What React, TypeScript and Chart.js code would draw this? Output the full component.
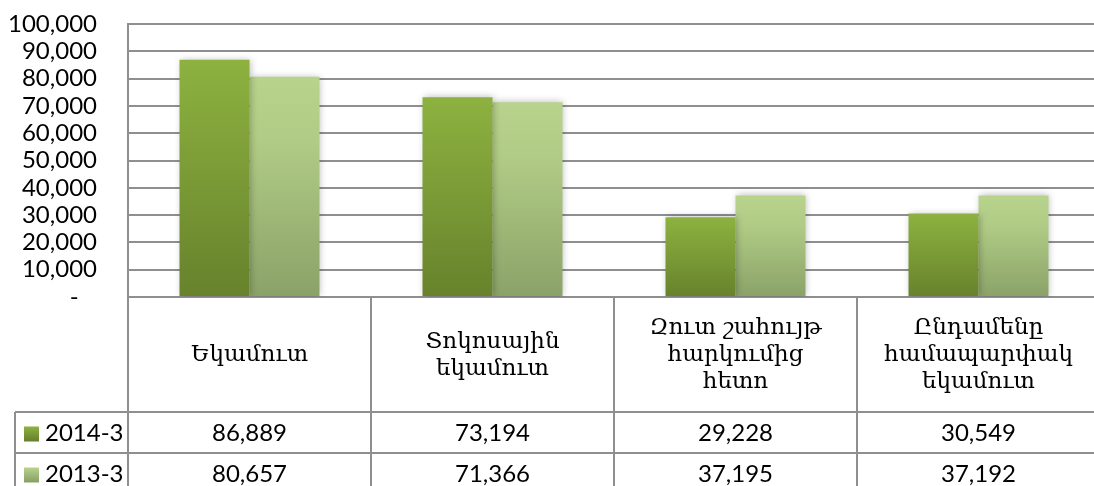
import React, { useEffect, useRef } from "react";
import { Chart, registerables } from "chart.js";

Chart.register(...registerables);

const categories: string[][] = [
  ["Եկամուտ"],
  ["Տոկոսային", "եկամուտ"],
  ["Զուտ շահույթ", "հարկումից", "հետո"],
  ["Ընդամենը", "համապարփակ", "եկամուտ"],
];
const seriesNames = ["2014-3", "2013-3"];
const values2014 = [86889, 73194, 29228, 30549];
const values2013 = [80657, 71366, 37195, 37192];
const yMin = 0;
const yMax = 100000;
const yStep = 10000;

const NUM_FONT = "24px Lato, 'Open Sans', sans-serif";
const CAT_FONT = "23px 'DejaVu Serif', serif";
const LINE = "#8f8f8f";

const fmt = (v: number) => v.toLocaleString("en-US");

const palette = [
  { top: "#8db240", bottom: "#67822c", mid: "#7b9c37" },
  { top: "#b8d38c", bottom: "#8aa268", mid: "#b0cb85" },
];

function barGradient(ctx: any, i: number) {
  const chart = ctx.chart;
  const area = chart.chartArea;
  if (!area || ctx.raw == null) return palette[i].top;
  const ys = chart.scales.y;
  const yTop = ys.getPixelForValue(ctx.raw);
  const yBase = ys.getPixelForValue(0);
  const g = chart.ctx.createLinearGradient(0, yTop, 0, yBase);
  g.addColorStop(0, palette[i].top);
  if (i === 1) g.addColorStop(0.3, palette[i].mid);
  g.addColorStop(1, palette[i].bottom);
  return g;
}

const shadowPlugin = {
  id: "barShadow",
  beforeDatasetsDraw(chart: any) {
    const c = chart.ctx;
    c.save();
    c.shadowColor = "rgba(0,0,0,0.28)";
    c.shadowBlur = 7;
    c.shadowOffsetX = 1;
    c.shadowOffsetY = 0;
  },
  afterDatasetsDraw(chart: any) {
    chart.ctx.restore();
  },
};

const tablePlugin = {
  id: "dataTable",
  afterDraw(chart: any) {
    const c = chart.ctx as CanvasRenderingContext2D;
    const area = chart.chartArea;
    const xs = chart.scales.x;
    const n = categories.length;
    const colW = (area.right - area.left) / n;
    const headerBottom = area.bottom + 115;
    const rowH = 41;
    const bottom = chart.height;
    const tableLeft = 15;

    c.save();
    c.strokeStyle = LINE;
    c.lineWidth = 2;
    c.beginPath();
    c.moveTo(area.left, area.top);
    c.lineTo(area.left, bottom);
    for (let i = 1; i <= n; i++) {
      const x = Math.round(xs.getPixelForValue(i - 1) + colW / 2);
      c.moveTo(x, area.bottom);
      c.lineTo(x, bottom);
    }
    for (let r = 0; r < seriesNames.length; r++) {
      const y = headerBottom + r * rowH;
      c.moveTo(tableLeft, y);
      c.lineTo(area.right, y);
    }
    c.moveTo(tableLeft, headerBottom);
    c.lineTo(tableLeft, bottom);
    c.stroke();

    c.fillStyle = "#000";
    c.textAlign = "center";
    c.textBaseline = "middle";
    c.font = CAT_FONT;
    const lineH = 27;
    const headerMid = (area.bottom + headerBottom) / 2 + 1;
    categories.forEach((lines, i) => {
      const cx = xs.getPixelForValue(i);
      const start = headerMid - ((lines.length - 1) * lineH) / 2;
      lines.forEach((t, k) => c.fillText(t, cx, start + k * lineH));
    });

    const allSeries = [values2014, values2013];
    c.font = NUM_FONT;
    allSeries.forEach((vals, r) => {
      const cy = headerBottom + r * rowH + rowH / 2 + 1;
      vals.forEach((v, i) => {
        c.textAlign = "center";
        c.fillText(fmt(v), xs.getPixelForValue(i), cy);
      });
      const g = c.createLinearGradient(0, cy - 7, 0, cy + 7);
      g.addColorStop(0, palette[r].top);
      g.addColorStop(1, palette[r].bottom);
      c.fillStyle = g;
      c.fillRect(24, cy - 7, 15, 15);
      c.fillStyle = "#000";
      c.textAlign = "left";
      c.fillText(seriesNames[r], 45, cy);
    });
    c.restore();
  },
};

export default function App() {
  const ref = useRef<HTMLCanvasElement | null>(null);
  useEffect(() => {
    if (!ref.current) return;
    const chart = new Chart(ref.current, {
      type: "bar",
      data: {
        labels: categories.map((l) => l.join(" ")),
        datasets: [
          {
            label: seriesNames[0],
            data: values2014,
            backgroundColor: (ctx: any) => barGradient(ctx, 0),
            borderWidth: 0,
            categoryPercentage: 0.576,
            barPercentage: 1,
          },
          {
            label: seriesNames[1],
            data: values2013,
            backgroundColor: (ctx: any) => barGradient(ctx, 1),
            borderWidth: 0,
            categoryPercentage: 0.576,
            barPercentage: 1,
          },
        ],
      },
      options: {
        responsive: false,
        animation: false,
        devicePixelRatio: 1,
        layout: { padding: { left: 0, top: 24, right: 10, bottom: 189 } },
        plugins: { legend: { display: false }, tooltip: { enabled: false } },
        scales: {
          x: { display: false },
          y: {
            min: yMin,
            max: yMax,
            afterFit: (s: any) => {
              s.width = 128;
              s.paddingTop = 0;
              s.paddingBottom = 0;
            },
            border: { display: true, color: LINE, width: 2 },
            grid: { color: LINE, lineWidth: 2, drawTicks: false },
            ticks: {
              stepSize: yStep,
              autoSkip: false,
              padding: 31,
              color: "#000",
              font: { family: "Lato, 'Open Sans', sans-serif", size: 24 },
              callback: (v: any) => (Number(v) === 0 ? "-   " : fmt(Number(v))),
            },
          },
        },
      },
      plugins: [shadowPlugin, tablePlugin],
    });
    return () => chart.destroy();
  }, []);
  return (
    <div
      style={{
        position: "fixed",
        left: 0,
        top: 0,
        width: 1094,
        height: 486,
        overflow: "hidden",
        background: "#fff",
      }}
    >
      <canvas ref={ref} width={1110} height={486} style={{ width: 1110, height: 486, display: "block" }} />
    </div>
  );
}
